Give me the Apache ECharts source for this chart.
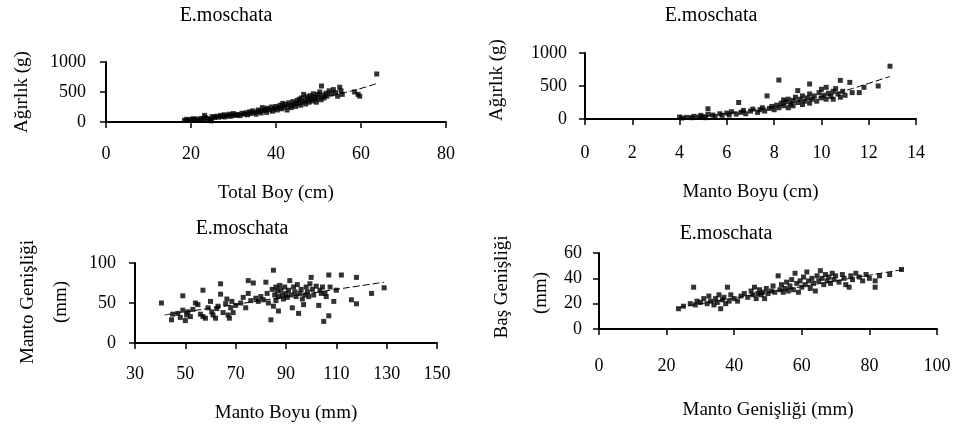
<!DOCTYPE html>
<html>
<head>
<meta charset="utf-8">
<script src="https://cdn.jsdelivr.net/npm/echarts@6/dist/echarts.min.js"></script>
<style>
  html, body { margin: 0; padding: 0; background: #fff; }
  #chart { width: 955px; height: 430px; }
</style>
</head>
<body>
<div id="chart"></div>
<script>
// E.moschata morphometric relationships: four scatter panels with trend lines.

const speciesTitle = 'E.moschata';

// Panel 1: total length (cm) vs weight (g)
const totalLenWeight = [
  [18.5,30],[19,45],[19.5,25],[20,40],[20.5,55],[21,35],[21.5,50],[22,30],[22.5,60],[23,45],
  [23.2,110],[23.5,70],[24,55],[24.5,40],[24.8,20],[25,90],[25.5,75],[26,95],[26.5,80],[27,110],
  [27.3,90],[27.8,120],[28,85],[28.5,105],[29,130],[29.3,95],[29.8,115],[30,140],[30.5,110],[31,125],
  [31.5,105],[32,145],[32.5,130],[33,155],[33.3,120],[33.8,170],[34,140],[34.5,185],[35,160],[35.3,130],
  [35.8,200],[36,175],[36.5,150],[36.8,240],[37,190],[37.5,210],[37.8,160],[38,230],[38.5,200],[39,250],
  [39.2,180],[39.6,220],[40,260],[40.3,200],[40.7,240],[41,280],[41.3,220],[41.6,310],[42,250],[42.3,290],
  [42.6,200],[43,320],[43.3,270],[43.6,240],[44,340],[44.3,300],[44.6,260],[45,360],[45.2,310],[45.5,380],
  [45.8,280],[46,400],[46.2,330],[46.5,460],[46.8,350],[47,300],[47.2,420],[47.5,380],[47.8,330],[48,440],
  [48.2,400],[48.5,350],[48.8,470],[49,420],[49.2,380],[49.5,330],[49.8,460],[50,410],[50.3,500],[50.6,370],
  [50.7,600],[51,450],[51.3,400],[51.8,480],[52,430],[52.5,520],[53,470],[53.5,540],[54,490],[54.5,430],
  [55,580],[55.3,520],[55.6,460],[58.5,500],[59.3,460],[59.7,430],[63.7,800]
];
const totalLenWeightTrend = [[18,35],[25,75],[30,120],[35,170],[40,230],[45,300],[50,380],[55,470],[60,560],[64,650]];

// Panel 2: mantle length (cm) vs weight (g)
const mantleLenWeight = [
  [4,30],[4.1,15],[4.3,25],[4.5,20],[4.6,40],[4.8,30],[4.9,55],[5,35],[5.1,20],[5.2,70],
  [5.2,155],[5.4,60],[5.5,40],[5.7,80],[5.8,55],[6,90],[6.1,60],[6.2,110],[6.4,75],[6.5,250],
  [6.6,100],[6.7,130],[6.8,80],[7,120],[7.1,150],[7.3,100],[7.4,140],[7.5,170],[7.6,120],[7.7,350],
  [7.8,160],[7.9,190],[8,140],[8.1,210],[8.2,590],[8.2,170],[8.3,240],[8.4,290],[8.4,200],[8.5,260],
  [8.6,170],[8.6,300],[8.7,230],[8.8,280],[8.8,200],[8.9,330],[9,250],[9,430],[9.1,300],[9.2,220],
  [9.2,350],[9.3,270],[9.4,320],[9.5,530],[9.5,240],[9.5,380],[9.6,300],[9.7,350],[9.8,270],[9.9,400],
  [10,320],[10,450],[10.1,360],[10.2,300],[10.2,480],[10.3,390],[10.4,340],[10.5,420],[10.5,300],[10.6,460],
  [10.7,380],[10.8,585],[10.8,330],[10.9,420],[11,360],[11.2,555],[11.3,400],[11.6,400],[11.8,480],[12.4,500],
  [12.9,800]
];
const mantleLenWeightTrend = [[4,25],[5,50],[6,90],[7,135],[8,190],[9,260],[10,340],[11,430],[12,540],[12.9,645]];

// Panel 3: mantle length (mm) vs mantle width (mm)
const mantleLenWidth = [
  [40.5,50],[44.5,29],[45,36],[47,37],[48,32],[49,59],[49,41],[50,28],[50.5,35],[51,39],
  [52,33],[53,42],[54,50],[55,48],[56,36],[57,66],[57,33],[58,31],[59,44],[60,52],
  [60.5,39],[61,35],[62,31],[62.5,43],[63,46],[64,74],[64,61],[65,38],[66,49],[66.5,55],
  [67,35],[67.5,31],[68,44],[68.5,52],[69,38],[70,47],[72,50],[73,57],[74,44],[75,62],
  [75,78],[76,53],[77,75],[78,56],[79,52],[80,58],[81,54],[82,76],[82.5,62],[83,50],
  [84,29],[84.5,67],[85,91],[85,46],[85.5,60],[86,70],[86,53],[86.5,65],[87,58],[87,40],
  [87.5,72],[88,66],[88.5,60],[89,55],[89.5,70],[90,62],[90.5,57],[91,66],[91.5,78],[92,60],
  [92.5,44],[93,70],[93.5,64],[94,58],[94.5,73],[95,37],[95.5,62],[96,67],[96.5,55],[97,48],
  [97.5,60],[98,70],[98.5,64],[99,58],[99.5,74],[100,82],[100.5,67],[101,60],[102,71],[103,47],
  [103.5,66],[104,62],[104.5,70],[105,27],[105.5,62],[106,58],[107,34],[107,85],[107.5,70],[109,52],
  [110,66],[112,85],[116,54],[118,49],[118,82],[124,62],[129,69]
];
const mantleLenWidthTrend = [[41.8,35],[129,76]];

// Panel 4: mantle width (mm) vs head width (mm)
const mantleWidthHead = [
  [23.5,16],[25,18],[27,20],[28,33],[28.5,19],[29,22],[30,21],[31,24],[32,20],[32.5,26],
  [33,22],[34,19],[34.5,24],[35,21],[35.5,27],[36,16],[36.5,23],[37,25],[37.5,20],[38,33],
  [38.5,22],[39,27],[40,24],[41,22],[42,26],[43,28],[44,25],[45,30],[45.5,27],[46,33],
  [46.5,24],[47,28],[47.5,31],[48,27],[48.5,29],[49,24],[49.5,32],[50,28],[51,30],[51.5,34],
  [52,29],[53,42],[53.5,31],[54,35],[54.5,29],[55,32],[55.5,37],[56,30],[56.5,34],[57,39],
  [57.5,31],[58,44],[58.5,36],[59,29],[59.5,38],[60,33],[60.5,41],[61,35],[61.5,45],[62,38],
  [62.5,32],[63,40],[63.5,36],[64,30],[64.5,42],[65,38],[65.5,46],[66,40],[66.5,35],[67,43],
  [67.5,38],[68,41],[68.5,36],[69,44],[69.5,39],[70,42],[71,37],[72,43],[72.5,40],[73,35],
  [74,33],[74.5,42],[75,39],[76,44],[77,41],[78,38],[79,43],[80,40],[81.7,38],[81.7,33],
  [83,42],[86,43],[89.5,47]
];
const mantleWidthHeadTrend = [[23.5,17],[90,47]];

// Axis ranges and tick steps per panel: [xMin, xMax, xStep, yMin, yMax, yStep]
const axisRanges = [
  [0, 80, 20, 0, 1000, 500],
  [0, 14, 2, 0, 1000, 500],
  [30, 150, 20, 0, 100, 50],
  [0, 100, 20, 0, 60, 20]
];
const xAxisNames = ['Total Boy (cm)', 'Manto Boyu (cm)', 'Manto Boyu (mm)', 'Manto Genişliği (mm)'];
const yAxisNames = [['Ağırlık (g)'], ['Ağırlık (g)'], ['Manto Genişliği', '(mm)'], ['Baş Genişliği', '(mm)']];

const FONT = 'Liberation Serif';
const TEXT = { fontFamily: FONT, fontSize: 18, color: '#000' };

const grids = [
  { left: 106, top: 62, width: 340, height: 60 },
  { left: 585, top: 53, width: 331, height: 66 },
  { left: 135, top: 263, width: 302, height: 80 },
  { left: 599, top: 253, width: 338, height: 76 }
];
const xNameGaps = [62, 64, 61, 72];
const xLabelMargins = [23, 25, 22, 28];
const yLabelMargins = [20, 18, 19, 17];
const titlePos = [[221, 1], [706, 1], [237, 214], [721, 219]];
const yNamePos = [
  [[22, 92]],
  [[497, 80]],
  [[28, 302], [61, 302]],
  [[502, 287], [541, 293]]
];

const scatterSets = [totalLenWeight, mantleLenWeight, mantleLenWidth, mantleWidthHead];
const trendSets = [totalLenWeightTrend, mantleLenWeightTrend, mantleLenWidthTrend, mantleWidthHeadTrend];

const axisLine = { show: true, onZero: false, lineStyle: { color: '#000', width: 2 } };
const axisTick = { show: true, inside: false, length: 6, lineStyle: { color: '#000', width: 1.5 } };

const option = {
  backgroundColor: '#fff',
  animation: false,
  title: titlePos.map(p => ({
    text: speciesTitle,
    left: p[0], top: p[1],
    textAlign: 'center',
    textStyle: { fontFamily: FONT, fontSize: 20, fontWeight: 'normal', color: '#000' }
  })),
  grid: grids,
  xAxis: axisRanges.map((r, i) => ({
    type: 'value', gridIndex: i, min: r[0], max: r[1], interval: r[2],
    name: xAxisNames[i], nameLocation: 'middle', nameGap: xNameGaps[i],
    nameTextStyle: { fontFamily: FONT, fontSize: 19, color: '#000' },
    axisLine, axisTick,
    axisLabel: Object.assign({ margin: xLabelMargins[i], formatter: v => String(v) }, TEXT),
    splitLine: { show: false }
  })),
  yAxis: axisRanges.map((r, i) => ({
    type: 'value', gridIndex: i, min: r[3], max: r[4], interval: r[5],
    axisLine, axisTick,
    axisLabel: Object.assign({ margin: yLabelMargins[i], formatter: v => String(v) }, TEXT),
    splitLine: { show: false }
  })),
  graphic: yNamePos.flatMap((lines, i) => lines.map((p, j) => ({
    type: 'text', x: p[0], y: p[1], rotation: Math.PI / 2,
    style: {
      text: yAxisNames[i][j], fontFamily: FONT, fontSize: 19, fill: '#000',
      align: 'center', verticalAlign: 'middle'
    }
  }))),
  series: [
    ...scatterSets.map((d, i) => ({
      type: 'scatter', xAxisIndex: i, yAxisIndex: i, data: d,
      symbol: 'rect', symbolSize: 5,
      itemStyle: { color: '#000' }, z: 3
    })),
    ...trendSets.map((d, i) => ({
      type: 'line', xAxisIndex: i, yAxisIndex: i, data: d,
      smooth: true, showSymbol: false,
      lineStyle: { color: '#000', width: 1, type: [7, 3] }, z: 2
    }))
  ]
};

echarts.init(document.getElementById('chart'), null, { renderer: 'canvas' }).setOption(option);
</script>
</body>
</html>
